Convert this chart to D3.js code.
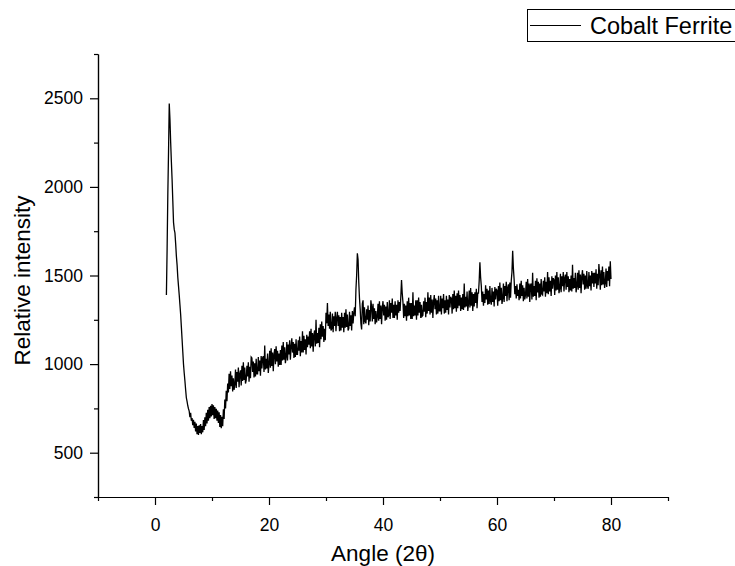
<!DOCTYPE html>
<html>
<head>
<meta charset="utf-8">
<script src="https://cdn.jsdelivr.net/npm/d3@7"></script>
<style>
  body { margin: 0; background: #fff; }
  svg { font-family: "Liberation Sans", Arial, sans-serif; }
  .axis path, .axis line { stroke: #000; stroke-width: 1.2; }
  .axis text { font-size: 17.5px; fill: #000; }
</style>
</head>
<body>
<svg id="chart"></svg>
<script>
// Scan grid (2θ, degrees) - the diffractometer steps at a fixed increment
const angleStart = 2;
const angleStep = 0.125;

// Intensity, one row per degree (8 steps each)
const intensity = [
  1390, 1650, 1960, 2200, 2470, 2380, 2250, 2140,   // 2
  2040, 1920, 1800, 1760, 1740, 1680, 1610, 1560,   // 3
  1490, 1440, 1390, 1335, 1280, 1210, 1140, 1070,   // 4
  1000, 950, 905, 855, 810, 790, 765, 748,          // 5
  735, 700, 725, 680, 695, 655, 685, 640,           // 6
  675, 620, 665, 605, 650, 600, 655, 612,           // 7
  662, 605, 650, 615, 685, 628, 700, 650,           // 8
  725, 665, 742, 680, 758, 695, 765, 705,           // 9
  775, 712, 768, 690, 758, 695, 748, 680,           // 10
  738, 668, 728, 645, 712, 638, 702, 650,           // 11
  745, 690, 800, 750, 850, 790, 890, 840,           // 12
  945, 860, 960, 875, 935, 845, 920, 855,           // 13
  885, 970, 865, 955, 900, 980, 870, 945,           // 14
  965, 880, 990, 905, 1010, 910, 980, 890,          // 15
  910, 990, 930, 1010, 900, 985, 920, 1040,         // 16
  1035, 955, 1015, 925, 1005, 930, 1030, 945,       // 17
  945, 1040, 960, 1020, 935, 1045, 975, 1035,       // 18
  1045, 955, 1105, 970, 1030, 975, 1060, 950,       // 19
  1000, 1075, 980, 1090, 990, 1065, 960, 1055,      // 20
  1085, 1000, 1100, 1015, 1075, 985, 1060, 995,     // 21
  1080, 995, 1105, 1020, 1125, 1025, 1095, 1005,    // 22
  1040, 1125, 1020, 1110, 1055, 1135, 1025, 1100,   // 23
  1145, 1065, 1125, 1035, 1115, 1040, 1140, 1055,   // 24
  1055, 1135, 1075, 1155, 1045, 1130, 1065, 1185,   // 25
  1065, 1160, 1080, 1140, 1055, 1165, 1095, 1155,   // 26
  1110, 1185, 1090, 1200, 1100, 1175, 1070, 1165,   // 27
  1190, 1100, 1250, 1115, 1175, 1120, 1205, 1095,   // 28
  1225, 1140, 1240, 1155, 1215, 1125, 1200, 1135,   // 29
  1290, 1230, 1345, 1215, 1280, 1200, 1295, 1190,   // 30
  1200, 1285, 1180, 1270, 1215, 1295, 1185, 1260,   // 31
  1295, 1215, 1275, 1185, 1265, 1190, 1290, 1205,   // 32
  1265, 1180, 1290, 1205, 1310, 1210, 1280, 1190,   // 33
  1200, 1295, 1215, 1275, 1190, 1300, 1230, 1290,   // 34
  1320, 1270, 1420, 1500, 1625, 1590, 1460, 1370,   // 35
  1310, 1230, 1195, 1340, 1360, 1225, 1320, 1240,   // 36
  1230, 1310, 1250, 1330, 1220, 1305, 1240, 1360,   // 37
  1325, 1240, 1340, 1255, 1315, 1225, 1300, 1235,   // 38
  1265, 1340, 1245, 1355, 1255, 1330, 1225, 1320,   // 39
  1355, 1275, 1335, 1245, 1325, 1250, 1350, 1265,   // 40
  1275, 1360, 1255, 1345, 1290, 1370, 1260, 1335,   // 41
  1260, 1355, 1275, 1335, 1250, 1360, 1290, 1350,   // 42
  1300, 1380, 1475, 1400, 1350, 1260, 1340, 1270,   // 43
  1330, 1245, 1355, 1270, 1375, 1275, 1345, 1255,   // 44
  1345, 1255, 1405, 1270, 1330, 1275, 1360, 1250,   // 45
  1360, 1275, 1375, 1290, 1350, 1260, 1335, 1270,   // 46
  1275, 1355, 1295, 1375, 1265, 1350, 1285, 1405,   // 47
  1300, 1375, 1280, 1390, 1290, 1365, 1260, 1355,   // 48
  1390, 1310, 1370, 1280, 1360, 1285, 1385, 1300,   // 49
  1300, 1385, 1280, 1370, 1315, 1395, 1285, 1360,   // 50
  1290, 1385, 1305, 1365, 1280, 1390, 1320, 1380,   // 51
  1370, 1285, 1395, 1310, 1415, 1315, 1385, 1295,   // 52
  1400, 1315, 1415, 1330, 1390, 1300, 1375, 1310,   // 53
  1395, 1305, 1455, 1320, 1380, 1325, 1410, 1300,   // 54
  1340, 1415, 1320, 1430, 1330, 1405, 1300, 1395,   // 55
  1325, 1405, 1345, 1425, 1315, 1400, 1400, 1470,   // 56
  1575, 1490, 1440, 1350, 1410, 1330, 1395, 1345,   // 57
  1445, 1365, 1425, 1335, 1415, 1340, 1440, 1355,   // 58
  1335, 1430, 1350, 1410, 1325, 1435, 1365, 1425,   // 59
  1415, 1330, 1440, 1355, 1460, 1360, 1430, 1340,   // 60
  1370, 1455, 1350, 1440, 1385, 1465, 1355, 1430,   // 61
  1450, 1360, 1460, 1375, 1470, 1520, 1640, 1540,   // 62
  1480, 1395, 1440, 1370, 1450, 1385, 1420, 1360,   // 63
  1455, 1370, 1470, 1385, 1445, 1355, 1430, 1365,   // 64
  1390, 1465, 1370, 1480, 1380, 1455, 1350, 1445,   // 65
  1455, 1365, 1515, 1380, 1440, 1385, 1470, 1360,   // 66
  1485, 1405, 1465, 1375, 1455, 1380, 1480, 1395,   // 67
  1390, 1470, 1410, 1490, 1380, 1465, 1400, 1520,   // 68
  1395, 1490, 1410, 1470, 1385, 1495, 1425, 1485,   // 69
  1475, 1390, 1500, 1415, 1520, 1420, 1490, 1400,   // 70
  1425, 1510, 1405, 1495, 1440, 1520, 1410, 1485,   // 71
  1505, 1420, 1520, 1435, 1495, 1405, 1480, 1415,   // 72
  1500, 1410, 1560, 1425, 1485, 1430, 1515, 1405,   // 73
  1440, 1515, 1420, 1530, 1430, 1505, 1400, 1495,   // 74
  1530, 1450, 1510, 1420, 1500, 1425, 1525, 1440,   // 75
  1425, 1520, 1440, 1500, 1415, 1525, 1455, 1515,   // 76
  1435, 1515, 1455, 1535, 1425, 1510, 1445, 1565,   // 77
  1505, 1420, 1530, 1445, 1550, 1450, 1520, 1430,   // 78
  1455, 1540, 1435, 1525, 1470, 1550, 1440, 1580,   // 79
  1480                                              // 80
];

// Axis ticks
const xMajorTicks = [0, 20, 40, 60, 80];
const xMinorTicks = [-10, 10, 30, 50, 70, 90];
const yMajorTicks = [500, 1000, 1500, 2000, 2500];
const yMinorTicks = [250, 750, 1250, 1750, 2250, 2750];

const seriesName = 'Cobalt Ferrite';
const xTitle = 'Angle (2θ)';
const yTitle = 'Relative intensity';

class XrdVis {

  constructor(_config, _data) {
    this.config = {
      parentElement: _config.parentElement,
      containerWidth: _config.containerWidth || 735,
      containerHeight: _config.containerHeight || 566,
      margin: _config.margin || {top: 54, right: 67, bottom: 69, left: 98}
    };
    this.data = _data;
    this.initVis();
  }

  /**
   * Scales, axes and the static bits (titles, legend)
   */
  initVis() {
    let vis = this;
    vis.width = vis.config.containerWidth - vis.config.margin.left - vis.config.margin.right;
    vis.height = vis.config.containerHeight - vis.config.margin.top - vis.config.margin.bottom;

    vis.svg = d3.select(vis.config.parentElement)
      .attr('width', vis.config.containerWidth)
      .attr('height', vis.config.containerHeight);

    vis.chart = vis.svg.append('g')
      .attr('transform', `translate(${vis.config.margin.left},${vis.config.margin.top})`);

    vis.xScale = d3.scaleLinear()
      .domain([-10, 90])
      .range([0, vis.width]);

    vis.yScale = d3.scaleLinear()
      .domain([250, 2750])
      .range([vis.height, 0]);

    vis.xAxis = d3.axisBottom(vis.xScale)
      .tickValues(xMajorTicks)
      .tickSize(8)
      .tickPadding(14)
      .tickSizeOuter(0);

    vis.xAxisMinor = d3.axisBottom(vis.xScale)
      .tickValues(xMinorTicks)
      .tickSize(4)
      .tickFormat('')
      .tickSizeOuter(0);

    vis.yAxis = d3.axisLeft(vis.yScale)
      .tickValues(yMajorTicks)
      .tickSize(8)
      .tickPadding(7)
      .tickFormat(d3.format('d'))
      .tickSizeOuter(0);

    vis.yAxisMinor = d3.axisLeft(vis.yScale)
      .tickValues(yMinorTicks)
      .tickSize(4)
      .tickFormat('')
      .tickSizeOuter(0);

    vis.line = d3.line()
      .x(d => vis.xScale(d.angle))
      .y(d => vis.yScale(d.value));

    // Axis titles
    vis.svg.append('text')
      .attr('x', vis.config.margin.left + vis.width / 2)
      .attr('y', 561)
      .attr('text-anchor', 'middle')
      .style('font-size', '22.5px')
      .text(xTitle);

    vis.svg.append('text')
      .attr('transform', `translate(30,${vis.config.margin.top + vis.height / 2 + 5}) rotate(-90)`)
      .attr('text-anchor', 'middle')
      .style('font-size', '22.5px')
      .text(yTitle);

    // Legend, runs off the right edge like in the original
    const legend = vis.svg.append('g').attr('class', 'legend');
    legend.append('rect')
      .attr('x', 527.5)
      .attr('y', 9.5)
      .attr('width', 230)
      .attr('height', 32)
      .attr('fill', '#fff')
      .attr('stroke', '#000');
    legend.append('line')
      .attr('x1', 530).attr('x2', 581)
      .attr('y1', 25.5).attr('y2', 25.5)
      .attr('stroke', '#000');
    legend.append('text')
      .attr('x', 590)
      .attr('y', 33.5)
      .style('font-size', '23.5px')
      .text(seriesName);

    vis.updateVis();
  }

  updateVis() {
    let vis = this;
    vis.points = vis.data.map((v, i) => ({angle: angleStart + i * angleStep, value: v}));
    vis.renderVis();
  }

  renderVis() {
    let vis = this;

    vis.chart.append('path')
      .datum(vis.points)
      .attr('fill', 'none')
      .attr('stroke', '#000')
      .attr('stroke-width', 1.3)
      .attr('d', vis.line);

    vis.chart.append('g')
      .attr('class', 'axis x-axis')
      .attr('transform', `translate(0,${vis.height})`)
      .call(vis.xAxisMinor);

    vis.chart.append('g')
      .attr('class', 'axis x-axis')
      .attr('transform', `translate(0,${vis.height})`)
      .call(vis.xAxis);

    vis.chart.append('g')
      .attr('class', 'axis y-axis')
      .call(vis.yAxisMinor);

    vis.chart.append('g')
      .attr('class', 'axis y-axis')
      .call(vis.yAxis);
  }
}

new XrdVis({parentElement: '#chart'}, intensity);
</script>
</body>
</html>
